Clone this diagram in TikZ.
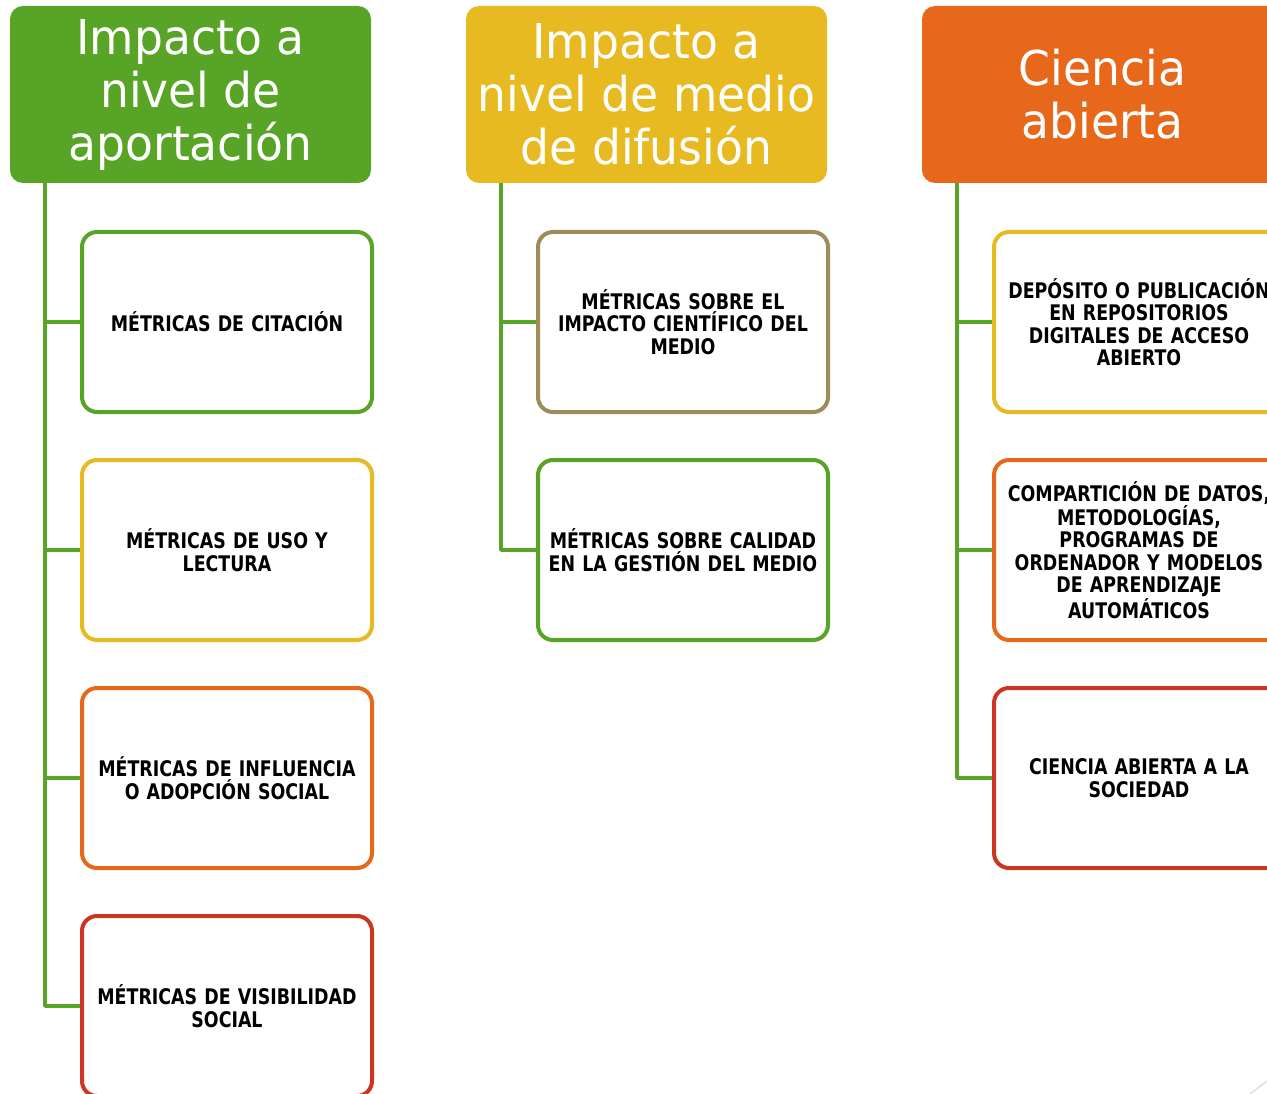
\documentclass[tikz,border=0pt]{standalone}
\usepackage{fontspec}
\newfontfamily\headfont[FakeStretch=0.95]{DejaVu Sans}
\newfontfamily\cellfont[FakeStretch=0.81]{DejaVu Sans}
\definecolor{leaf}{HTML}{58A427}
\definecolor{gold}{HTML}{E8BA22}
\definecolor{tang}{HTML}{E7671B}
\definecolor{brick}{HTML}{CC3522}
\definecolor{khaki}{HTML}{9C8D5B}
\usetikzlibrary{positioning}

\tikzset{
  header/.style={rectangle, rounded corners=13pt, minimum width=361pt, minimum height=177pt,
    inner sep=0pt, text=white, align=center, font=\headfont\fontsize{48}{53}\selectfont},
  cell/.style={rectangle, draw=#1, line width=4pt, rounded corners=15pt, fill=white,
    minimum width=290pt, minimum height=180pt, inner sep=0pt, text width=280pt, align=center,
    font=\cellfont\bfseries\fontsize{21.5}{22.4}\selectfont},
  link/.style={leaf, line width=3.8pt}
}

\begin{document}
\begin{tikzpicture}[x=1pt, y=-1pt, line join=round]
  \useasboundingbox (0,0) rectangle (1267,1094);
  \clip (0,0) rectangle (1267,1094);
  % Headers.
  \node[header, fill=leaf] (h1) at (190.5,94.5) {Impacto a\\nivel de\\aportación};
  \node[header, fill=gold] (h2) at (646.5,94.5) {Impacto a\\nivel de medio\\de difusión};
  \node[header, fill=tang] (h3) at (1102.5,94.5) {Ciencia\\abierta};
  % Column one.
  \node[cell=leaf] (a1) at (227,322) {MÉTRICAS DE CITACIÓN};
  \node[cell=gold] (a2) at (227,550) {MÉTRICAS DE USO Y\\LECTURA};
  \node[cell=tang] (a3) at (227,778) {MÉTRICAS DE INFLUENCIA\\O ADOPCIÓN SOCIAL};
  \node[cell=brick] (a4) at (227,1006) {MÉTRICAS DE VISIBILIDAD\\SOCIAL};
  % Column two.
  \node[cell=khaki] (b1) at (683,322) {MÉTRICAS SOBRE EL\\IMPACTO CIENTÍFICO DEL\\MEDIO};
  \node[cell=leaf] (b2) at (683,550) {MÉTRICAS SOBRE CALIDAD\\EN LA GESTIÓN DEL MEDIO};
  % Column three.
  \node[cell=gold] (c1) at (1139,322) {DEPÓSITO O PUBLICACIÓN\\EN REPOSITORIOS\\DIGITALES DE ACCESO\\ABIERTO};
  \node[cell=tang] (c2) at (1139,550) {COMPARTICIÓN DE DATOS,\\METODOLOGÍAS,\\PROGRAMAS DE\\ORDENADOR Y MODELOS\\DE APRENDIZAJE\\AUTOMÁTICOS};
  \node[cell=brick] (c3) at (1139,778) {CIENCIA ABIERTA A LA\\SOCIEDAD};
  % Branch roots under each header.
  \coordinate (r1) at (45,183);
  \coordinate (r2) at (501,183);
  \coordinate (r3) at (957,183);
  \foreach \i in {a1,a2,a3,a4} \draw[link] (r1) |- (\i.west);
  \foreach \i in {b1,b2} \draw[link] (r2) |- (\i.west);
  \foreach \i in {c1,c2,c3} \draw[link] (r3) |- (\i.west);
  % Faint corner mark.
  \draw[black!15, line width=1.2pt] (1250,1094) -- (1267,1081);
\end{tikzpicture}
\end{document}
